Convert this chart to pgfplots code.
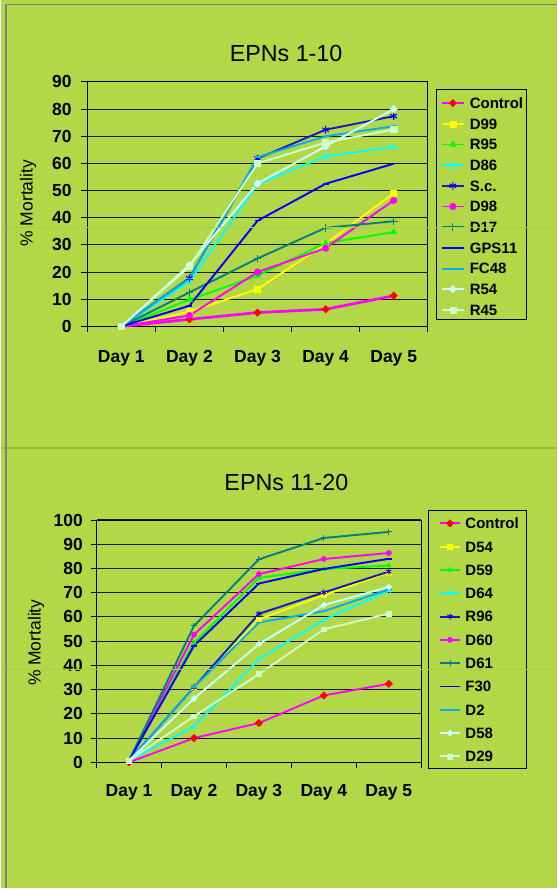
\documentclass[border=0pt]{standalone}
\usepackage{pgfplots}
\usepackage{pgfplotstable}
\pgfplotsset{compat=1.18}
\usepackage{fontspec}
\setmainfont{Liberation Sans}

\definecolor{bg}{RGB}{178,216,72}
\definecolor{cMag}{RGB}{255,0,255}
\definecolor{cRed}{RGB}{255,0,0}
\definecolor{cYel}{RGB}{255,255,0}
\definecolor{cGrn}{RGB}{0,255,0}
\definecolor{cCya}{RGB}{0,255,255}
\definecolor{cNav}{RGB}{25,25,190}
\definecolor{cTea}{RGB}{0,128,128}
\definecolor{cBlu}{RGB}{0,0,255}
\definecolor{cSky}{RGB}{0,176,240}
\definecolor{cLc}{RGB}{204,255,255}
\definecolor{cLg}{RGB}{204,255,204}
\definecolor{sepc}{RGB}{140,198,40}
\definecolor{faint}{RGB}{165,208,66}

\newcommand\tickfont{\fontsize{17.5}{20}\selectfont\bfseries}
\newcommand\legfont{\fontsize{15}{18}\selectfont\bfseries}
\newcommand\titlefont{\fontsize{23.3}{27}\selectfont}
\newcommand\labfont{\fontsize{17.5}{20}\selectfont}

\pgfplotstableread{
day Control D99 R95 D86 Sc D98 D17 GPS11 FC48 R54 R45
1 0 0 0 0 0 0 0 0 0 0 0
2 2.6 5.4 9.8 16.5 17.8 4.0 12.5 7.6 17.6 22.6 22.0
3 5.1 13.7 18.7 52.4 61.8 20.0 25.0 38.9 62.3 52.6 60.0
4 6.3 30.4 30.7 62.6 72.4 28.8 36.3 52.5 70.0 66.3 67.7
5 11.3 49.0 34.7 66.1 77.4 46.4 38.7 59.9 73.7 80.0 72.5
}\tableA

\pgfplotstableread{
day Control D54 D59 D64 R96 D60 D61 F30 D2 D58 D29
1 0 0.7 0.7 0.7 0.7 0.7 0.7 0.7 0.7 0.7 0.7
2 10.0 31.0 49.4 14.8 31.0 52.7 56.3 48.1 31.0 26.3 19.0
3 16.2 59.0 76.1 42.6 61.3 77.7 83.8 73.8 57.7 48.8 36.4
4 27.6 69.0 79.8 58.8 70.1 83.9 92.6 79.8 62.4 64.9 54.9
5 32.4 78.4 81.2 70.9 78.7 86.4 95.1 84.0 71.3 72.4 61.4
}\tableB

\pgfplotsset{
  panel/.style={
    scale only axis, clip=false,
    xmin=0.5, xmax=5.5,
    xtick={0.5,1.5,...,5.5},
    xticklabels={Day 1,Day 2,Day 3,Day 4,Day 5,{}},
    tick align=outside,
    xtick pos=bottom, ytick pos=left,
    major tick length=6pt,
    ymajorgrids,
    grid style={black!90, line width=1.1pt},
    axis line style={black, line width=1pt},
    tick style={black, line width=1pt},
    /pgf/number format/assume math mode=true,
    ticklabel style={font=\tickfont},
    yticklabel style={anchor=east, inner sep=0pt},
    legend cell align=left,
    ylabel={\% Mortality},
  },
  lw/.style={line width=1.9pt},
}

\begin{document}
\begin{tikzpicture}[x=1pt,y=1pt]
\fill[bg] (0,0) rectangle (557,889);

% ---------------- top panel ----------------
\begin{axis}[panel,
  at={(86.7pt,562.3pt)}, anchor=south west,
  width=340.8pt, height=244.7pt,
  ymin=0, ymax=90, ytick={0,10,...,90},
  xticklabel style={anchor=base, inner sep=0pt, yshift=-30pt, xshift=34.08pt},
  yticklabel style={xshift=-9.5pt},
  title={EPNs 1-10},
  title style={at={(axis description cs:0.584,1.058)}, anchor=base, font=\titlefont, inner sep=0pt},
  ylabel style={at={(axis description cs:-0.1737,0.504)}, anchor=center, font=\labfont, inner sep=0pt},
  legend style={at={(1.0244,0.9702)}, anchor=north west, draw=black, line width=1pt, fill=none,
    inner xsep=3.7pt, inner ysep=1.1pt, row sep=0pt, column sep=0pt, font=\legfont,
    nodes={inner sep=0pt, text height=17.7pt, text depth=3pt}},
  legend image code/.code={%
    \path (0pt,0pt) (26.9pt,0pt);
    \draw[mark repeat=2,mark phase=2,#1] plot coordinates {(0pt,-1.95pt) (11.25pt,-1.95pt) (22.5pt,-1.95pt)};},
]
\addplot[cMag, line width=2.7pt, mark=square*, mark size=2.6pt, mark options={rotate=45, draw=cRed, fill=cRed, line width=0.5pt}] table[x=day,y=Control] {\tableA};
\addlegendentry{Control}
\addplot[cYel, lw, mark=square*, mark size=3pt, mark options={line width=0.5pt}] table[x=day,y=D99] {\tableA};
\addlegendentry{D99}
\addplot[cGrn, lw, mark=triangle*, mark size=3.6pt, mark options={line width=0.5pt}] table[x=day,y=R95] {\tableA};
\addlegendentry{R95}
\addplot[cCya, lw, mark=x, mark size=3.8pt, mark options={line width=1.1pt}] table[x=day,y=D86] {\tableA};
\addlegendentry{D86}
\addplot[cNav, lw, mark=asterisk, mark size=3.8pt, mark options={line width=1.1pt, draw=cBlu}] table[x=day,y=Sc] {\tableA};
\addlegendentry{S.c.}
\addplot[cMag, lw, mark=*, mark size=3.3pt, mark options={line width=0.5pt}] table[x=day,y=D98] {\tableA};
\addlegendentry{D98}
\addplot[cTea, lw, mark=+, mark size=3.8pt, mark options={line width=1pt}] table[x=day,y=D17] {\tableA};
\addlegendentry{D17}
\addplot[cBlu, lw, mark=-, mark size=3pt, mark options={line width=1.5pt}] table[x=day,y=GPS11] {\tableA};
\addlegendentry{GPS11}
\addplot[cSky, lw, mark=-, mark size=3pt, mark options={line width=1.5pt}] table[x=day,y=FC48] {\tableA};
\addlegendentry{FC48}
\addplot[cLc, lw, mark=square*, mark size=2.6pt, mark options={rotate=45, line width=0.5pt}] table[x=day,y=R54] {\tableA};
\addlegendentry{R54}
\addplot[cLg, lw, mark=square*, mark size=3.1pt, mark options={line width=0.5pt}] table[x=day,y=R45] {\tableA};
\addlegendentry{R45}
\end{axis}

% ---------------- bottom panel ----------------
\begin{axis}[panel,
  at={(96pt,126pt)}, anchor=south west,
  width=325pt, height=242.5pt,
  ymin=0, ymax=100, ytick={0,10,...,100},
  xticklabel style={anchor=base, inner sep=0pt, yshift=-28.3pt, xshift=32.5pt},
  yticklabel style={xshift=-7.5pt},
  title={EPNs 11-20},
  title style={at={(axis description cs:0.5846,1.096)}, anchor=base, font=\titlefont, inner sep=0pt},
  ylabel style={at={(axis description cs:-0.186,0.4936)}, anchor=center, font=\labfont, inner sep=0pt},
  legend style={at={(1.0194,1.0421)}, anchor=north west, draw=black, line width=1pt, fill=none,
    inner xsep=7.8pt, inner ysep=0.64pt, row sep=0pt, column sep=0pt, font=\legfont,
    nodes={inner sep=0pt, text height=17.76pt, text depth=5.57pt}},
  legend image code/.code={%
    \path (-3.6pt,0pt) (24.1pt,0pt);
    \draw[mark repeat=2,mark phase=2,#1] plot coordinates {(0pt,-0.7pt) (9.65pt,-0.7pt) (19.3pt,-0.7pt)};},
]
\addplot[cMag, lw, mark=square*, mark size=2.6pt, mark options={rotate=45, draw=cRed, fill=cRed, line width=0.5pt}] table[x=day,y=Control] {\tableB};
\addlegendentry{Control}
\addplot[cYel, lw, mark=square*, mark size=2.4pt, mark options={line width=0.5pt}] table[x=day,y=D54] {\tableB};
\addlegendentry{D54}
\addplot[cGrn, lw, mark=triangle*, mark size=2.8pt, mark options={line width=0.5pt}] table[x=day,y=D59] {\tableB};
\addlegendentry{D59}
\addplot[cCya, lw, mark=x, mark size=3pt, mark options={line width=1pt}] table[x=day,y=D64] {\tableB};
\addlegendentry{D64}
\addplot[cNav, lw, mark=asterisk, mark size=3pt, mark options={line width=1pt, draw=cBlu}] table[x=day,y=R96] {\tableB};
\addlegendentry{R96}
\addplot[cMag, lw, mark=*, mark size=2.6pt, mark options={line width=0.5pt}] table[x=day,y=D60] {\tableB};
\addlegendentry{D60}
\addplot[cTea, lw, mark=+, mark size=3pt, mark options={line width=1pt}] table[x=day,y=D61] {\tableB};
\addlegendentry{D61}
\addplot[cBlu, lw, mark=-, mark size=3pt, mark options={line width=1.5pt}] table[x=day,y=F30] {\tableB};
\addlegendentry{F30}
\addplot[cSky, lw, mark=-, mark size=3pt, mark options={line width=1.5pt}] table[x=day,y=D2] {\tableB};
\addlegendentry{D2}
\addplot[cLc, lw, mark=square*, mark size=2.1pt, mark options={rotate=45, line width=0.5pt}] table[x=day,y=D58] {\tableB};
\addlegendentry{D58}
\addplot[cLg, lw, mark=square*, mark size=2.4pt, mark options={line width=0.5pt}] table[x=day,y=D29] {\tableB};
\addlegendentry{D29}
\end{axis}

% frame and faint artefact lines
\draw[faint, line width=0.7pt] (0,661.3) -- (557,661.3);
\draw[faint, line width=0.7pt] (0,219) -- (557,219);
\draw[sepc, line width=1.3pt] (0,440.7) -- (557,440.7);
\draw[gray, line width=1.6pt] (5.3,0) -- (5.3,884.3) -- (557,884.3);
\useasboundingbox (0,0) rectangle (557,889);
\end{tikzpicture}
\end{document}
